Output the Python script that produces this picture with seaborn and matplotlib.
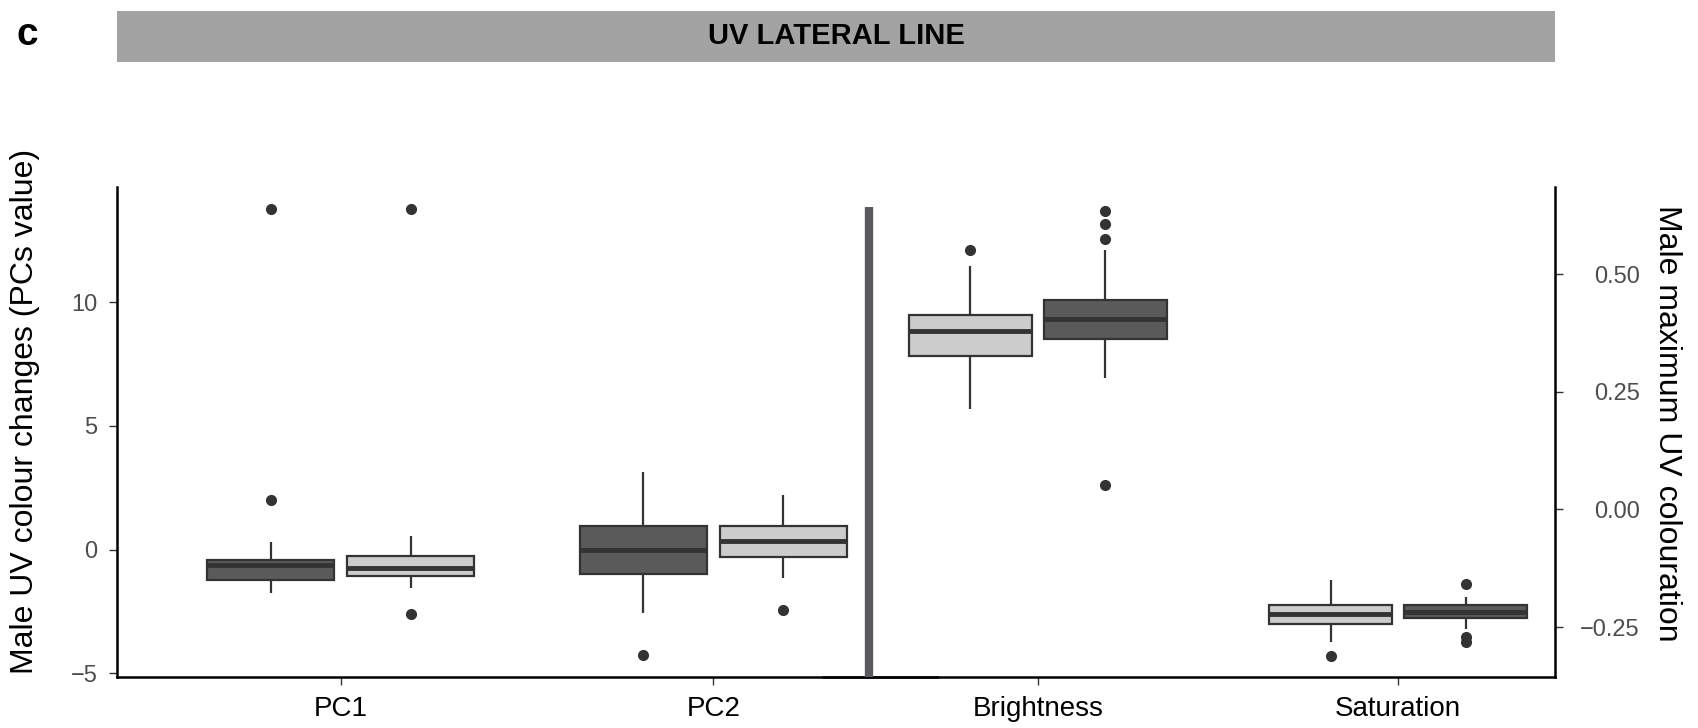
import matplotlib
matplotlib.use("Agg")
import matplotlib.pyplot as plt
import pandas as pd
import seaborn as sns
from matplotlib.lines import Line2D
from matplotlib.patches import Rectangle

# box summaries: [whisker low, Q1, median, Q3, whisker high]
pc_traits = ["PC1", "PC2"]
uv_traits = ["Brightness", "Saturation"]
groups = ["Group 1", "Group 2"]

pc1_g1 = [-1.74, -1.21, -0.63, -0.40, 0.31]
pc1_g1_out = [13.78, 2.01]
pc1_g2 = [-1.57, -1.07, -0.76, -0.27, 0.54]
pc1_g2_out = [13.78, -2.60]
pc2_g1 = [-2.55, -0.98, 0.00, 0.94, 3.13]
pc2_g1_out = [-4.25]
pc2_g2 = [-1.16, -0.31, 0.36, 0.94, 2.19]
pc2_g2_out = [-2.46]

bright_g1 = [0.279, 0.363, 0.405, 0.445, 0.552]
bright_g1_out = [0.635, 0.607, 0.574, 0.052]
bright_g2 = [0.213, 0.325, 0.380, 0.413, 0.518]
bright_g2_out = [0.551]
sat_g1 = [-0.253, -0.230, -0.218, -0.204, -0.187]
sat_g1_out = [-0.159, -0.272, -0.281]
sat_g2 = [-0.281, -0.244, -0.223, -0.204, -0.150]
sat_g2_out = [-0.312]


def points(summary, outliers):
    # rebuild a sample whose quartiles/whiskers equal the summary
    lo, q1, med, q3, hi = summary
    low = sorted(v for v in outliers if v < lo)
    high = sorted(v for v in outliers if v > hi)
    k = max(len(low), len(high)) + 1
    return (low + [lo] * (k - len(low)) + [q1] * k + [med] * k + [q3]
            + [hi] * (k - len(high)) + high)


def frame(rows):
    recs = []
    for trait, group, summary, out in rows:
        for v in points(summary, out):
            recs.append({"trait": trait, "group": group, "value": v})
    return pd.DataFrame(recs)


pc_df = frame([
    ("PC1", "Group 1", pc1_g1, pc1_g1_out),
    ("PC1", "Group 2", pc1_g2, pc1_g2_out),
    ("PC2", "Group 1", pc2_g1, pc2_g1_out),
    ("PC2", "Group 2", pc2_g2, pc2_g2_out),
])
uv_df = frame([
    ("Brightness", "Group 1", bright_g1, bright_g1_out),
    ("Brightness", "Group 2", bright_g2, bright_g2_out),
    ("Saturation", "Group 1", sat_g1, sat_g1_out),
    ("Saturation", "Group 2", sat_g2, sat_g2_out),
])

sns.set_theme(style="white")
plt.rcParams["font.family"] = ["Liberation Sans", "DejaVu Sans"]

W, H = 1699, 728
fig = plt.figure(figsize=(W / 100, H / 100), dpi=100)


def px_axes(x0, x1, y0, y1):
    return fig.add_axes([x0 / W, 1 - y1 / H, (x1 - x0) / W, (y1 - y0) / H])


ax1 = px_axes(117, 937, 187, 677)
ax2 = px_axes(823, 1555, 187, 677)
ax2.patch.set_alpha(0)

palette = {"Group 1": "#5a5a5a", "Group 2": "#cccccc"}
box_kw = dict(
    x="trait", y="value", hue="group", palette=palette, saturation=1,
    width=0.75, gap=0.09, linecolor="#333333", linewidth=1.6, legend=False,
    showcaps=False,
    medianprops=dict(linewidth=3.5, color="#333333"),
    flierprops=dict(marker="o", markersize=7, markerfacecolor="#333333",
                    markeredgecolor="#333333"),
)
sns.boxplot(data=pc_df, order=pc_traits, hue_order=groups, ax=ax1, **box_kw)
sns.boxplot(data=uv_df, order=uv_traits, hue_order=groups[::-1], ax=ax2, **box_kw)

ax1.set_xlim(-0.6, 1.6)
ax1.set_ylim(-5.15, 14.66)
ax1.set_yticks([-5, 0, 5, 10])
ax1.set_yticklabels(["\u22125", "0", "5", "10"])
ax1.set_xlabel("")
ax1.set_ylabel("Male UV colour changes (PCs value)", fontsize=23, color="black")
ax1.yaxis.set_label_coords(-0.094, 0.541)
for s in ["top", "right"]:
    ax1.spines[s].set_visible(False)

ax2.set_xlim(-0.597, 1.436)
ax2.set_ylim(-0.356, 0.685)
ax2.set_yticks([-0.25, 0, 0.25, 0.5])
ax2.set_yticklabels(["\u22120.25", "0.00", "0.25", "0.50"])
ax2.yaxis.tick_right()
ax2.set_xlabel("")
ax2.set_ylabel("Male maximum UV colouration", fontsize=23, color="black",
               rotation=270)
ax2.yaxis.set_label_position("right")
ax2.yaxis.label.set_verticalalignment("bottom")
ax2.yaxis.set_label_coords(1.133, 0.517)
for s in ["top", "left"]:
    ax2.spines[s].set_visible(False)

for ax in (ax1, ax2):
    for s in ax.spines.values():
        s.set_color("black")
        s.set_linewidth(1.8)
    ax.tick_params(axis="x", labelsize=20, labelcolor="black", length=6,
                   width=1, color="#333333", bottom=True, pad=8)
    ax.grid(False)
ax1.tick_params(axis="y", labelsize=17, labelcolor="#4d4d4d", length=6,
                width=1, color="#333333", left=True, pad=8)
ax2.tick_params(axis="y", labelsize=17, labelcolor="#4d4d4d", length=6,
                width=1, color="#333333", right=True, left=False, pad=55)
for lbl in ax2.get_yticklabels():
    lbl.set_horizontalalignment("right")

# thick separator between the two panels
fig.add_artist(Line2D([869 / W, 869 / W], [1 - 677 / H, 1 - 207 / H],
                      color="#5b5a5f", linewidth=6, solid_capstyle="butt"))

# header strip
fig.add_artist(Rectangle((117 / W, 1 - 62 / H), (1555 - 117) / W, 51 / H,
                         transform=fig.transFigure, color="#a3a3a3", lw=0))
fig.text((117 + 1555) / 2 / W, 1 - 36.5 / H, "UV LATERAL LINE", ha="center",
         va="center", fontsize=21, fontweight="bold", color="black")
fig.text(27 / W, 1 - 45 / H, "c", ha="center", va="baseline", fontsize=28,
         fontweight="bold", color="black")

fig.savefig("out.png", dpi=100)
